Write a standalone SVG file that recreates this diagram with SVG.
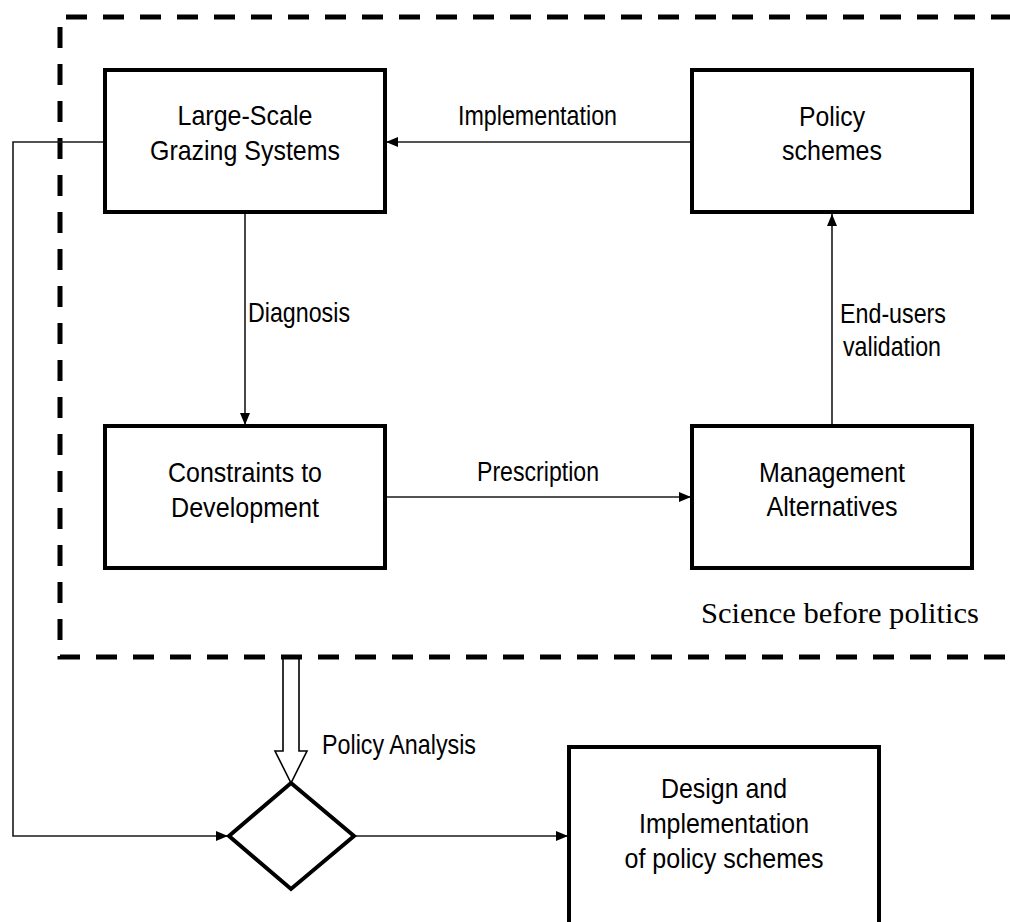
<svg xmlns="http://www.w3.org/2000/svg" width="1010" height="922" viewBox="0 0 1010 922">
<style>
  .box { fill: #fff; stroke: #000; stroke-width: 4; }
  .conn { fill: none; stroke: #1a1a1a; stroke-width: 1.6; }
  .t { font-family: "Liberation Sans", Arial, sans-serif; font-size: 27.5px; fill: #000; text-anchor: middle; }
  .ts { font-family: "Liberation Sans", Arial, sans-serif; font-size: 27.5px; fill: #000; }
  .serif { font-family: "Liberation Serif", "Times New Roman", serif; font-size: 30px; fill: #000; }
  .frame { fill: none; stroke: #000; stroke-width: 5; stroke-dasharray: 21 16; }
</style>
<defs>
  <marker id="arr" markerUnits="userSpaceOnUse" markerWidth="12" markerHeight="10" refX="12" refY="5" orient="auto">
    <path d="M0,0 L12,5 L0,10 Z" fill="#000"/>
  </marker>
</defs>
<rect width="1010" height="922" fill="#fff"/>

<g id="policy-analysis-arrow">
  <path d="M283,655 V751 H275 L291,783 L307,751 H299 V655" fill="#fff" stroke="#000" stroke-width="1.6"/>
</g>

<g id="frame">
  <path class="frame" d="M1012,17 H60 V657 H1012"/>
  <text class="serif" x="701" y="623" textLength="278" lengthAdjust="spacingAndGlyphs">Science before politics</text>
</g>

<g id="connectors">
  <line class="conn" x1="692" y1="142" x2="386" y2="142" marker-end="url(#arr)"/>
  <line class="conn" x1="245" y1="213" x2="245" y2="425" marker-end="url(#arr)"/>
  <line class="conn" x1="385" y1="497" x2="691" y2="497" marker-end="url(#arr)"/>
  <line class="conn" x1="832" y1="426" x2="832" y2="214" marker-end="url(#arr)"/>
  <path class="conn" d="M105,142 H13 V836 H228" marker-end="url(#arr)"/>
  <line class="conn" x1="354" y1="836" x2="568" y2="836" marker-end="url(#arr)"/>
  <text class="t" x="537.5" y="125" textLength="159" lengthAdjust="spacingAndGlyphs">Implementation</text>
  <text class="ts" x="248" y="322" textLength="102" lengthAdjust="spacingAndGlyphs">Diagnosis</text>
  <text class="t" x="538" y="481" textLength="122" lengthAdjust="spacingAndGlyphs">Prescription</text>
  <text class="t" x="893" y="323" textLength="106" lengthAdjust="spacingAndGlyphs">End-users</text>
  <text class="t" x="892" y="356" textLength="98" lengthAdjust="spacingAndGlyphs">validation</text>
  <text class="ts" x="322" y="754" textLength="154" lengthAdjust="spacingAndGlyphs">Policy Analysis</text>
</g>

<g id="node-grazing">
  <rect class="box" x="105" y="70" width="280" height="142"/>
  <text class="t" x="245" y="125" textLength="135" lengthAdjust="spacingAndGlyphs">Large-Scale</text>
  <text class="t" x="245" y="160" textLength="190" lengthAdjust="spacingAndGlyphs">Grazing Systems</text>
</g>

<g id="node-policy">
  <rect class="box" x="692" y="70" width="280" height="142"/>
  <text class="t" x="832" y="126" textLength="66" lengthAdjust="spacingAndGlyphs">Policy</text>
  <text class="t" x="832" y="160" textLength="100" lengthAdjust="spacingAndGlyphs">schemes</text>
</g>

<g id="node-constraints">
  <rect class="box" x="105" y="426" width="280" height="142"/>
  <text class="t" x="245" y="482" textLength="154" lengthAdjust="spacingAndGlyphs">Constraints to</text>
  <text class="t" x="245" y="517" textLength="148" lengthAdjust="spacingAndGlyphs">Development</text>
</g>

<g id="node-management">
  <rect class="box" x="692" y="426" width="280" height="142"/>
  <text class="t" x="832" y="482" textLength="146" lengthAdjust="spacingAndGlyphs">Management</text>
  <text class="t" x="832" y="516" textLength="131" lengthAdjust="spacingAndGlyphs">Alternatives</text>
</g>

<g id="node-decision">
  <polygon class="box" points="291,783 354,836 291,889 229,836"/>
</g>

<g id="node-design">
  <path class="box" d="M569,930 V747 H879 V930"/>
  <text class="t" x="724" y="798" textLength="126" lengthAdjust="spacingAndGlyphs">Design and</text>
  <text class="t" x="724" y="833" textLength="170" lengthAdjust="spacingAndGlyphs">Implementation</text>
  <text class="t" x="724" y="868" textLength="199" lengthAdjust="spacingAndGlyphs">of policy schemes</text>
</g>
</svg>
